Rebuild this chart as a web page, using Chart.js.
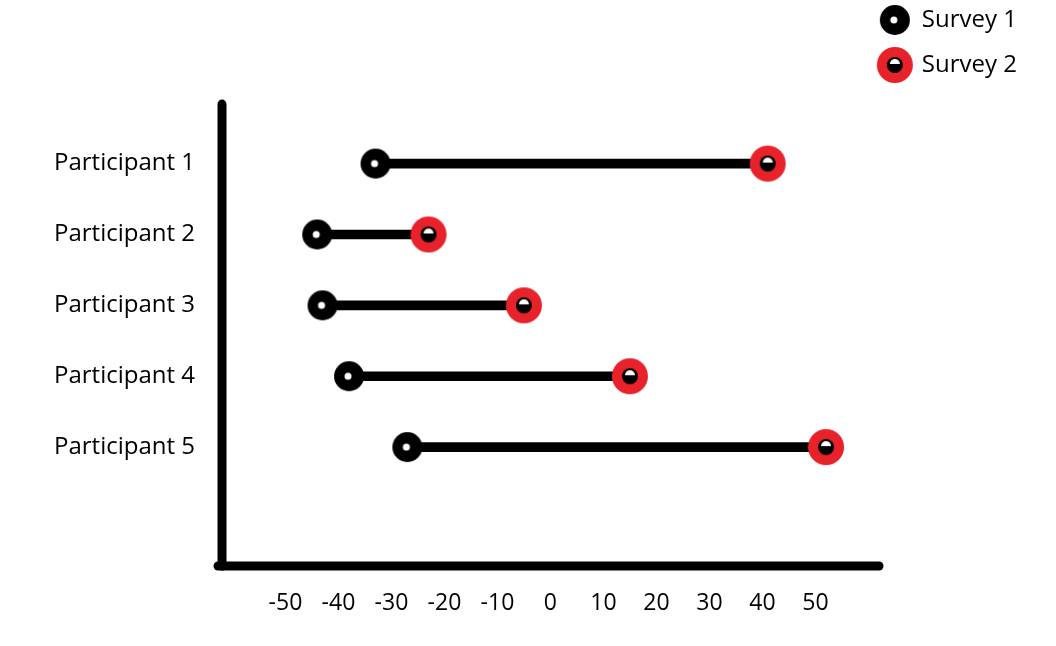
<!DOCTYPE html>
<html>
<head>
<meta charset="utf-8">
<script src="https://cdn.jsdelivr.net/npm/chart.js@4/dist/chart.umd.min.js"></script>
<style>
  html, body { margin: 0; padding: 0; background: #ffffff; }
  #wrap { width: 1056px; height: 646px; position: relative; }
</style>
</head>
<body>
<div id="wrap"><canvas id="c" width="1056" height="646"></canvas></div>
<script>
// ---- data ----
const participants = ['Participant 1', 'Participant 2', 'Participant 3', 'Participant 4', 'Participant 5'];
const participantPos = [1, 2, 3, 4, 5];
const survey1 = [-33, -44, -43, -38, -27];
const survey2 = [41, -23, -5, 15, 52];
const xTickValues = [-50, -40, -30, -20, -10, 0, 10, 20, 30, 40, 50];
const seriesNames = ['Survey 1', 'Survey 2'];

// ---- styles ----
const FONT = '"Open Sans", "Noto Sans", sans-serif';
const RED = '#e8222b';

function makeMarker1() {
  const c = document.createElement('canvas');
  c.width = 32; c.height = 32;
  const g = c.getContext('2d');
  g.fillStyle = '#000';
  g.beginPath(); g.arc(16, 16, 15, 0, Math.PI * 2); g.fill();
  g.fillStyle = '#fff';
  g.beginPath(); g.arc(15, 16, 3.5, 0, Math.PI * 2); g.fill();
  return c;
}
function makeMarker2() {
  const c = document.createElement('canvas');
  c.width = 38; c.height = 38;
  const g = c.getContext('2d');
  g.fillStyle = RED;
  g.beginPath(); g.arc(19, 19, 18, 0, Math.PI * 2); g.fill();
  g.fillStyle = '#000';
  g.beginPath(); g.arc(19, 19, 8, 0, Math.PI * 2); g.fill();
  g.fillStyle = '#fff';
  g.beginPath(); g.arc(19, 18, 5, Math.PI, 0); g.closePath(); g.fill();
  return c;
}
const m1 = makeMarker1();
const m2 = makeMarker2();

const axisLines = {
  id: 'axisLines',
  afterDraw(chart) {
    const { ctx, chartArea } = chart;
    const xs = chart.scales.x, ys = chart.scales.y;
    ctx.save();
    ctx.strokeStyle = '#000';
    ctx.lineWidth = 9;
    ctx.lineCap = 'round';
    ctx.beginPath();
    ctx.moveTo(chartArea.left, ys.getPixelForValue(0.16));
    ctx.lineTo(chartArea.left, chartArea.bottom);
    ctx.stroke();
    ctx.beginPath();
    ctx.moveTo(chartArea.left - 4, chartArea.bottom);
    ctx.lineTo(xs.getPixelForValue(62), chartArea.bottom);
    ctx.stroke();
    ctx.restore();
  }
};

const connectorData = participantPos.map((p, i) => ({ y: p, x: [survey1[i], survey2[i]] }));
const s1Data = participantPos.map((p, i) => ({ x: survey1[i], y: p }));
const s2Data = participantPos.map((p, i) => ({ x: survey2[i], y: p }));

new Chart(document.getElementById('c'), {
  type: 'bar',
  data: {
    datasets: [
      {
        type: 'bar',
        label: 'range',
        indexAxis: 'y',
        data: connectorData,
        backgroundColor: '#000',
        borderWidth: 0,
        barThickness: 9,
        order: 3
      },
      {
        type: 'scatter',
        label: seriesNames[0],
        data: s1Data,
        pointStyle: m1,
        backgroundColor: '#000',
        borderColor: '#000',
        order: 1
      },
      {
        type: 'scatter',
        label: seriesNames[1],
        data: s2Data,
        pointStyle: m2,
        backgroundColor: RED,
        borderColor: RED,
        order: 0
      }
    ]
  },
  options: {
    responsive: false,
    animation: false,
    layout: { padding: { top: -13, right: 29, bottom: 30, left: 0 } },
    plugins: {
      tooltip: { enabled: false },
      legend: {
        position: 'right',
        align: 'start',
        labels: {
          filter: (item) => item.text !== 'range',
          sort: (a, b) => a.datasetIndex - b.datasetIndex,
          usePointStyle: true,
          pointStyleWidth: 30,
          padding: 21,
          color: '#000',
          font: { family: FONT, size: 24 }
        }
      }
    },
    scales: {
      x: {
        type: 'linear',
        offset: false,
        beginAtZero: false,
        min: -61.97,
        max: 58.2,
        grid: { display: false, drawTicks: false, offset: false },
        border: { display: false },
        afterBuildTicks(scale) { scale.ticks = xTickValues.map(v => ({ value: v })); },
        afterFit(scale) { scale.height = 50; },
        ticks: {
          padding: 24,
          color: '#000',
          font: { family: FONT, size: 23 },
          maxRotation: 0,
          autoSkip: false
        }
      },
      y: {
        type: 'linear',
        offset: false,
        beginAtZero: false,
        reverse: true,
        min: -1.2378,
        max: 6.678,
        grid: { display: false, drawTicks: false, offset: false },
        border: { display: false },
        afterBuildTicks(scale) { scale.ticks = participantPos.map(v => ({ value: v })); },
        afterFit(scale) { scale.width = 222; scale.paddingTop = 0; scale.paddingBottom = 0; },
        ticks: {
          padding: 27,
          color: '#000',
          font: { family: FONT, size: 24 },
          autoSkip: false,
          callback: (v) => participants[participantPos.indexOf(v)] || ''
        }
      }
    }
  },
  plugins: [axisLines]
});
</script>
</body>
</html>
